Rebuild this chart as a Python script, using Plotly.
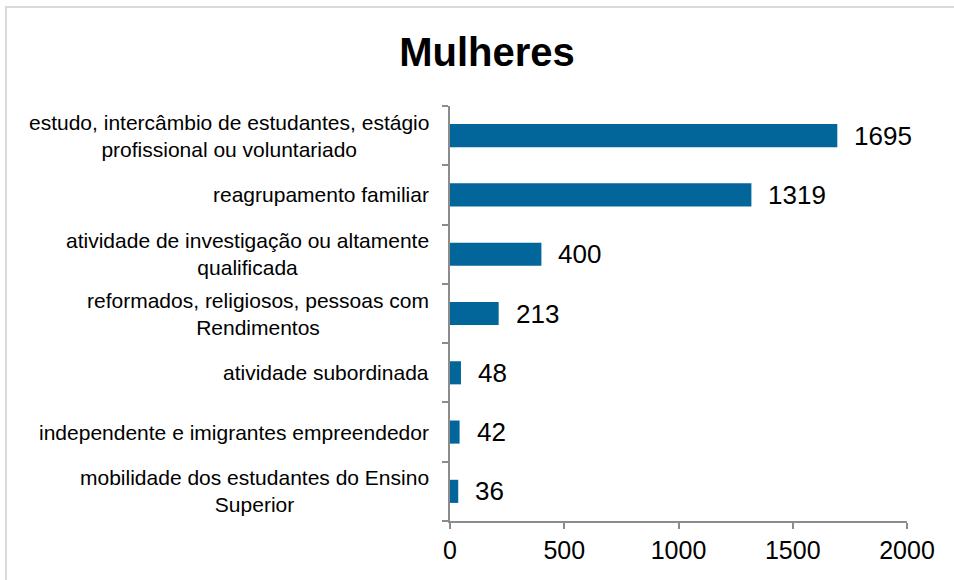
import plotly.graph_objects as go

categories = [
    "estudo, intercâmbio de estudantes, estágio<br>profissional ou voluntariado",
    "reagrupamento familiar",
    "atividade de investigação ou altamente<br>qualificada",
    "reformados, religiosos, pessoas com<br>Rendimentos",
    "atividade subordinada",
    "independente e imigrantes empreendedor",
    "mobilidade dos estudantes do Ensino<br>Superior",
]
values = [1695, 1319, 400, 213, 48, 42, 36]
x_ticks = [0, 500, 1000, 1500, 2000]
title_text = "Mulheres"

FONT = "Liberation Sans, Arial, sans-serif"
BAR = "#03669a"
AXIS = "#8c8c8c"

fig = go.Figure()
fig.add_trace(go.Bar(
    x=values, y=list(range(len(categories))), orientation="h",
    marker=dict(color=BAR, line=dict(width=0)),
    hoverinfo="skip",
))

annotations = []
for i, (c, v) in enumerate(zip(categories, values)):
    annotations.append(dict(
        x=0, xref="paper", y=i, yref="y", text=c, showarrow=False,
        xanchor="right", yanchor="middle", align="center", xshift=-19,
        font=dict(family=FONT, size=21, color="#000"),
    ))
    annotations.append(dict(
        x=v, xref="x", y=i, yref="y", text=str(v), showarrow=False,
        xanchor="left", yanchor="middle", xshift=15,
        font=dict(family=FONT, size=26, color="#000"),
    ))

fig.update_layout(
    width=954, height=580,
    margin=dict(l=450, r=47, t=106, b=59),
    paper_bgcolor="white", plot_bgcolor="white",
    showlegend=False,
    bargap=0.61,
    title=dict(text=f"<b>{title_text}</b>", x=487/954, xanchor="center",
               y=1-52/580, yanchor="middle",
               font=dict(family=FONT, size=40, color="#000")),
    xaxis=dict(range=[0, 2000], tickvals=x_ticks, ticktext=[str(t) for t in x_ticks],
               showgrid=False, zeroline=False, showline=True, linecolor=AXIS, linewidth=1.5,
               ticks="outside", ticklen=6, tickcolor=AXIS, tickwidth=1.5,
               tickfont=dict(family=FONT, size=25, color="#000"), fixedrange=True),
    yaxis=dict(type="linear", range=[len(categories)-0.5, -0.5], showticklabels=False,
               tickvals=[i - 0.5 for i in range(len(categories)+1)],
               showgrid=False, zeroline=False, showline=True, linecolor=AXIS, linewidth=1.5,
               ticks="outside", ticklen=6, tickcolor=AXIS, tickwidth=1.5, fixedrange=True),
    annotations=annotations,
    shapes=[dict(type="rect", xref="paper", yref="paper",
                 x0=(6-450)/457, x1=(960-450)/457,
                 y0=(521-590)/415, y1=(521-7)/415,
                 line=dict(color="#d9d9d9", width=2), fillcolor="rgba(0,0,0,0)", layer="below")],
)

fig.write_html("out.html", config={"displayModeBar": False},
               post_script="document.body.style.margin='0';document.body.style.overflow='hidden';")
